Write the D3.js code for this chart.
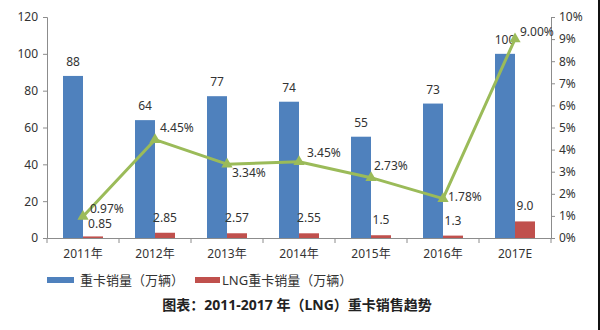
<!DOCTYPE html>
<html><head><meta charset="utf-8">
<script src="https://cdn.jsdelivr.net/npm/d3@7/dist/d3.min.js"></script>
<style>body{margin:0;background:#fff}svg{display:block}text{font-family:"Noto Sans","Noto Sans CJK SC",sans-serif}</style>
</head><body><svg id="c" width="600" height="330"></svg>
<script>
const categories = ["2011年","2012年","2013年","2014年","2015年","2016年","2017E"];
const truckSales = [88,64,77,74,55,73,100];
const lngSales = [0.85,2.85,2.57,2.55,1.5,1.3,9.0];
const lngShare = [0.97,4.45,3.34,3.45,2.73,1.78,9.00];
const leftTicks = [0,20,40,60,80,100,120];
const rightTicks = [0,1,2,3,4,5,6,7,8,9,10];
const seriesNames = ["重卡销量（万辆）","LNG重卡销量（万辆）"];
const title = "图表：2011-2017 年（LNG）重卡销售趋势";

const blue="#4f81bd", red="#c0504d", green="#9bbb59", axisC="#8c8c8c", txt="#333";
const svg=d3.select("#c");
const x=d3.scaleBand().domain(categories).range([47,551]);
const yL=d3.scaleLinear().domain([0,120]).range([238,17]);
const yR=d3.scaleLinear().domain([0,10]).range([238,17]);
const bw=20;

// bars
svg.selectAll(".b").data(truckSales).enter().append("rect")
 .attr("x",(d,i)=>x(categories[i])+x.bandwidth()/2-bw).attr("width",bw)
 .attr("y",d=>yL(d)).attr("height",d=>yL(0)-yL(d)).attr("fill",blue);
svg.selectAll(".r").data(lngSales).enter().append("rect")
 .attr("x",(d,i)=>x(categories[i])+x.bandwidth()/2).attr("width",bw)
 .attr("y",d=>yL(d)).attr("height",d=>yL(0)-yL(d)).attr("fill",red);

// axes
const gL=svg.append("g").attr("transform","translate(47,0)")
 .call(d3.axisLeft(yL).tickValues(leftTicks).tickSize(4).tickPadding(5));
const gR=svg.append("g").attr("transform","translate(551,0)")
 .call(d3.axisRight(yR).tickValues(rightTicks).tickFormat(d=>d+"%").tickSize(4).tickPadding(4));
const gX=svg.append("g").attr("transform","translate(0,238)")
 .call(d3.axisBottom(x).tickSize(0).tickPadding(11));
[gL,gR,gX].forEach(g=>{
  g.select(".domain").attr("stroke",axisC);
  g.selectAll(".tick line").attr("stroke",axisC);
  g.selectAll("text").attr("font-size",12).attr("fill",txt).style("font-family",'"Noto Sans","Noto Sans CJK SC",sans-serif');
});
// category boundary ticks on x axis
const bounds=categories.map(c=>x(c)).concat([x.range()[1]]);
svg.selectAll(".xt").data(bounds).enter().append("line")
 .attr("x1",d=>d).attr("x2",d=>d).attr("y1",238).attr("y2",243).attr("stroke",axisC);

// bar labels
svg.selectAll(".bl").data(truckSales).enter().append("text")
 .attr("x",(d,i)=>x(categories[i])+x.bandwidth()/2-bw/2).attr("y",d=>yL(d)-10)
 .attr("text-anchor","middle").attr("font-size",12).attr("fill",txt).text(d=>d);
svg.selectAll(".rl").data(lngSales).enter().append("text")
 .attr("x",(d,i)=>x(categories[i])+x.bandwidth()/2+bw/2+(i===0?7:0)).attr("y",(d,i)=>yL(d)-11+(i===0?3:0))
 .attr("text-anchor","middle").attr("font-size",12).attr("fill",txt).text(d=>d===9?"9.0":d);

// line
const cx=i=>x(categories[i])+x.bandwidth()/2;
const line=d3.line().x((d,i)=>cx(i)).y(d=>yR(d));
svg.append("path").datum(lngShare).attr("d",line).attr("fill","none")
 .attr("stroke",green).attr("stroke-width",3).attr("stroke-linejoin","round");
svg.selectAll(".m").data(lngShare).enter().append("path")
 .attr("d",d3.symbol().type(d3.symbolTriangle).size(55))
 .attr("transform",(d,i)=>`translate(${cx(i)},${yR(d)})`).attr("fill",green);
const lblOff=[[7,-4],[5,-8],[5,13],[8,-5],[3,-8],[5,2],[5,-3]];
svg.selectAll(".ll").data(lngShare).enter().append("text")
 .attr("x",(d,i)=>cx(i)+lblOff[i][0]).attr("y",(d,i)=>yR(d)+lblOff[i][1])
 .attr("font-size",12).attr("fill",txt).text(d=>d.toFixed(2)+"%");

// legend
const leg=[{x:47,c:blue,t:seriesNames[0]},{x:195,c:red,t:seriesNames[1]}];
leg.forEach((l,i)=>{
  svg.append("rect").attr("x",l.x).attr("y",277).attr("width",i?25:27).attr("height",6).attr("fill",l.c);
  svg.append("text").attr("x",l.x+(i?27:33)).attr("y",285).attr("font-size",13).attr("fill",txt).text(l.t);
});
// title
svg.append("text").attr("x",297).attr("y",310).attr("text-anchor","middle")
 .attr("font-size",14).attr("font-weight","bold").attr("fill","#222").text(title);
// right dark border
svg.append("rect").attr("x",598).attr("y",0).attr("width",2).attr("height",330).attr("fill","#111");
</script></body></html>
